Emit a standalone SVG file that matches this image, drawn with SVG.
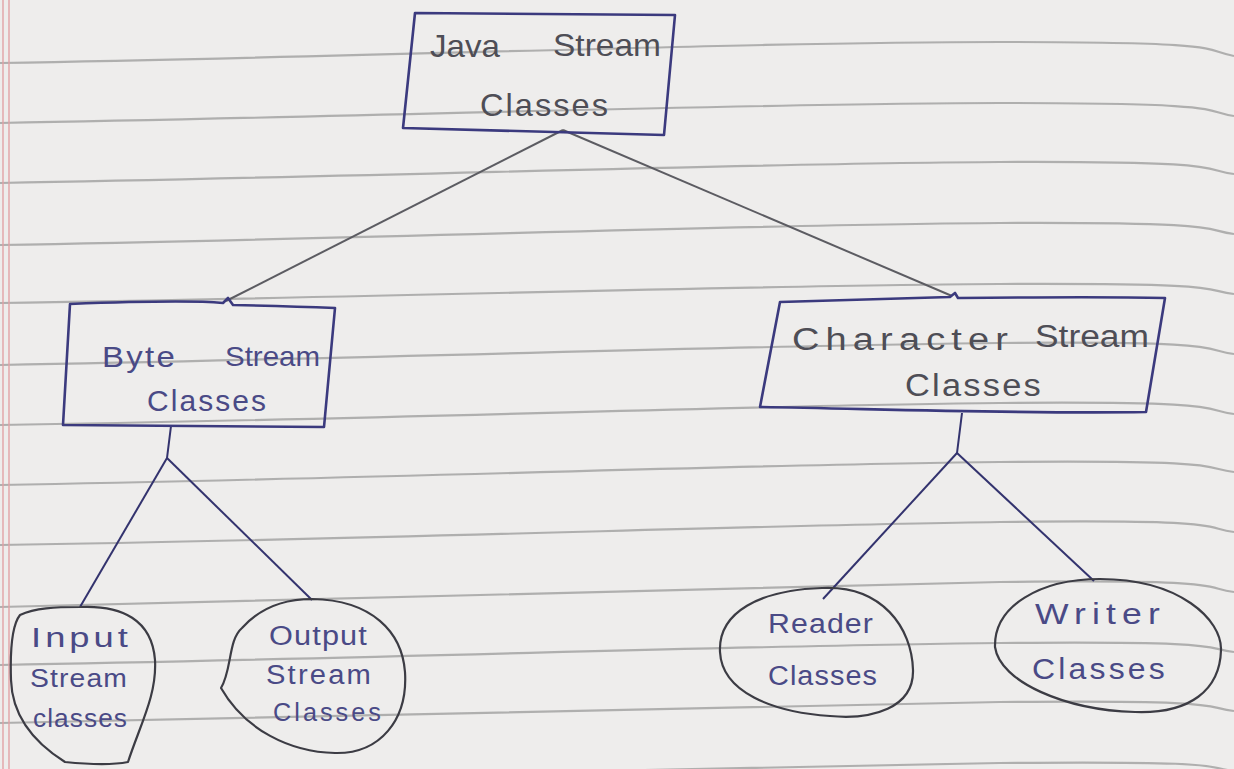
<svg xmlns="http://www.w3.org/2000/svg" width="1234" height="769" viewBox="0 0 1234 769">
  <defs>
    <style>
      .rule { fill: none; stroke: #9a9a9a; stroke-width: 2.2; opacity: 0.75; }
      .margin { fill: none; stroke: #e2a2a6; stroke-width: 1.4; }
      .box { fill: none; stroke: #3b3a7e; stroke-width: 2.6; stroke-linejoin: round; }
      .blob { fill: none; stroke: #3c3c44; stroke-width: 2.2; stroke-linejoin: round; }
      .link-top { fill: none; stroke: #5c5c62; stroke-width: 2; }
      .link { fill: none; stroke: #33336e; stroke-width: 2; }
      .hand { font-family: "Liberation Sans", "DejaVu Sans", sans-serif; font-weight: normal; }
      .ink-gray { fill: #4e4e56; }
      .ink-blue { fill: #4a4a86; }
    </style>
  </defs>

  <!-- paper -->
  <rect x="0" y="0" width="1234" height="769" fill="#eeedec"/>

  <!-- ruled lines of the notebook page -->
  <g id="ruling">
    <path class="rule" d="M0,63 C400,56 760,42 1000,42 S1200,50 1234,56"/>
    <path class="rule" d="M0,123 C400,116 760,103 1000,103 S1200,111 1234,116"/>
    <path class="rule" d="M0,183 C400,176 760,163 1000,162 S1200,170 1234,174"/>
    <path class="rule" d="M0,245 C400,238 760,224 1000,223 S1200,230 1234,234"/>
    <path class="rule" d="M0,303 C400,297 760,285 1000,284 S1200,290 1234,294"/>
    <path class="rule" d="M0,365 C400,358 760,345 1000,343 S1200,350 1234,354"/>
    <path class="rule" d="M0,425 C400,419 760,405 1000,403 S1200,410 1234,414"/>
    <path class="rule" d="M0,485 C400,478 760,464 1000,462 S1200,468 1234,472"/>
    <path class="rule" d="M0,545 C400,539 760,525 1000,522 S1200,528 1234,532"/>
    <path class="rule" d="M0,607 C400,598 760,585 1000,582 S1200,588 1234,592"/>
    <path class="rule" d="M0,665 C400,658 760,645 1000,643 S1200,648 1234,652"/>
    <path class="rule" d="M0,723 C400,716 760,704 1000,702 S1200,707 1234,711"/>
    <path class="rule" d="M0,783 C400,776 760,765 1000,763 S1200,767 1234,771"/>
  </g>

  <!-- red margin -->
  <g id="margin">
    <line class="margin" x1="3" y1="0" x2="3" y2="769"/>
    <line class="margin" x1="9" y1="0" x2="9" y2="769"/>
  </g>

  <!-- connectors -->
  <g id="connectors">
    <path class="link-top" d="M563,130 L226,301"/>
    <path class="link-top" d="M563,130 L952,296"/>
    <path class="link" d="M171,426 L167,458"/>
    <path class="link" d="M167,458 L80,607"/>
    <path class="link" d="M167,458 L312,600"/>
    <path class="link" d="M962,413 L957,453"/>
    <path class="link" d="M957,453 L823,599"/>
    <path class="link" d="M957,453 L1094,581"/>
  </g>

  <!-- root -->
  <g id="java-stream-classes">
    <path class="box" d="M415,13 L675,15 L664,135 L403,128 Z"/>
    <text class="hand ink-gray" x="430" y="57" font-size="32" textLength="70" lengthAdjust="spacingAndGlyphs">Java</text>
    <text class="hand ink-gray" x="553" y="56" font-size="32" textLength="108" lengthAdjust="spacingAndGlyphs">Stream</text>
    <text class="hand ink-gray" x="480" y="116" font-size="32" letter-spacing="2" textLength="130" lengthAdjust="spacingAndGlyphs">Classes</text>
  </g>

  <g id="byte-stream-classes">
    <path class="box" d="M70,304 C150,301 200,301 223,303 L228,298 L233,305 C280,306 310,307 335,308 L324,427 L63,425 Z"/>
    <text class="hand ink-blue" x="102" y="367" font-size="29" letter-spacing="2" textLength="75" lengthAdjust="spacingAndGlyphs">Byte</text>
    <text class="hand ink-blue" x="225" y="366" font-size="28" textLength="95" lengthAdjust="spacingAndGlyphs">Stream</text>
    <text class="hand ink-blue" x="147" y="411" font-size="29" letter-spacing="2" textLength="121" lengthAdjust="spacingAndGlyphs">Classes</text>
  </g>

  <g id="character-stream-classes">
    <path class="box" d="M780,302 C860,300 920,298 950,297 L955,293 L958,298 C1060,297 1120,297 1165,298 L1146,412 C1020,414 880,409 760,407 Z"/>
    <text class="hand ink-gray" x="792" y="350" font-size="31" letter-spacing="5" textLength="222" lengthAdjust="spacingAndGlyphs">Character</text>
    <text class="hand ink-gray" x="1035" y="347" font-size="31" textLength="114" lengthAdjust="spacingAndGlyphs">Stream</text>
    <text class="hand ink-gray" x="905" y="396" font-size="31" letter-spacing="2" textLength="138" lengthAdjust="spacingAndGlyphs">Classes</text>
  </g>

  <g id="input-stream-classes">
    <path class="blob" d="M80,607 C122,605 152,620 155,660 C157,695 140,725 128,762 C108,766 85,764 65,762 C30,740 12,712 11,680 C10,650 12,625 20,615 C35,608 55,607 80,607 Z"/>
    <text class="hand ink-blue" x="31" y="647" font-size="27" letter-spacing="3" textLength="101" lengthAdjust="spacingAndGlyphs">Input</text>
    <text class="hand ink-blue" x="30" y="687" font-size="25" letter-spacing="1" textLength="98" lengthAdjust="spacingAndGlyphs">Stream</text>
    <text class="hand ink-blue" x="33" y="727" font-size="25" letter-spacing="1" textLength="95" lengthAdjust="spacingAndGlyphs">classes</text>
  </g>

  <g id="output-stream-classes">
    <path class="blob" d="M312,599 C372,600 402,632 405,672 C408,720 380,754 335,753 C290,752 245,730 221,688 C232,670 228,640 242,628 C260,608 285,599 312,599 Z"/>
    <text class="hand ink-blue" x="269" y="645" font-size="27" letter-spacing="1" textLength="99" lengthAdjust="spacingAndGlyphs">Output</text>
    <text class="hand ink-blue" x="266" y="684" font-size="27" letter-spacing="2" textLength="107" lengthAdjust="spacingAndGlyphs">Stream</text>
    <text class="hand ink-blue" x="273" y="721" font-size="25" letter-spacing="3" textLength="111" lengthAdjust="spacingAndGlyphs">Classes</text>
  </g>

  <g id="reader-classes">
    <path class="blob" d="M822,588 C882,585 912,628 913,670 C914,708 872,720 830,716 C772,712 722,692 720,652 C718,612 760,590 822,588 Z"/>
    <text class="hand ink-blue" x="768" y="633" font-size="27" letter-spacing="1" textLength="106" lengthAdjust="spacingAndGlyphs">Reader</text>
    <text class="hand ink-blue" x="768" y="685" font-size="27" letter-spacing="1" textLength="110" lengthAdjust="spacingAndGlyphs">Classes</text>
  </g>

  <g id="writer-classes">
    <path class="blob" d="M1100,579 C1180,579 1222,620 1221,650 C1220,690 1190,714 1135,712 C1065,710 1000,682 995,647 C994,606 1040,579 1100,579 Z"/>
    <text class="hand ink-blue" x="1035" y="624" font-size="29" letter-spacing="5" textLength="131" lengthAdjust="spacingAndGlyphs">Writer</text>
    <text class="hand ink-blue" x="1032" y="679" font-size="30" letter-spacing="3" textLength="136" lengthAdjust="spacingAndGlyphs">Classes</text>
  </g>
</svg>
